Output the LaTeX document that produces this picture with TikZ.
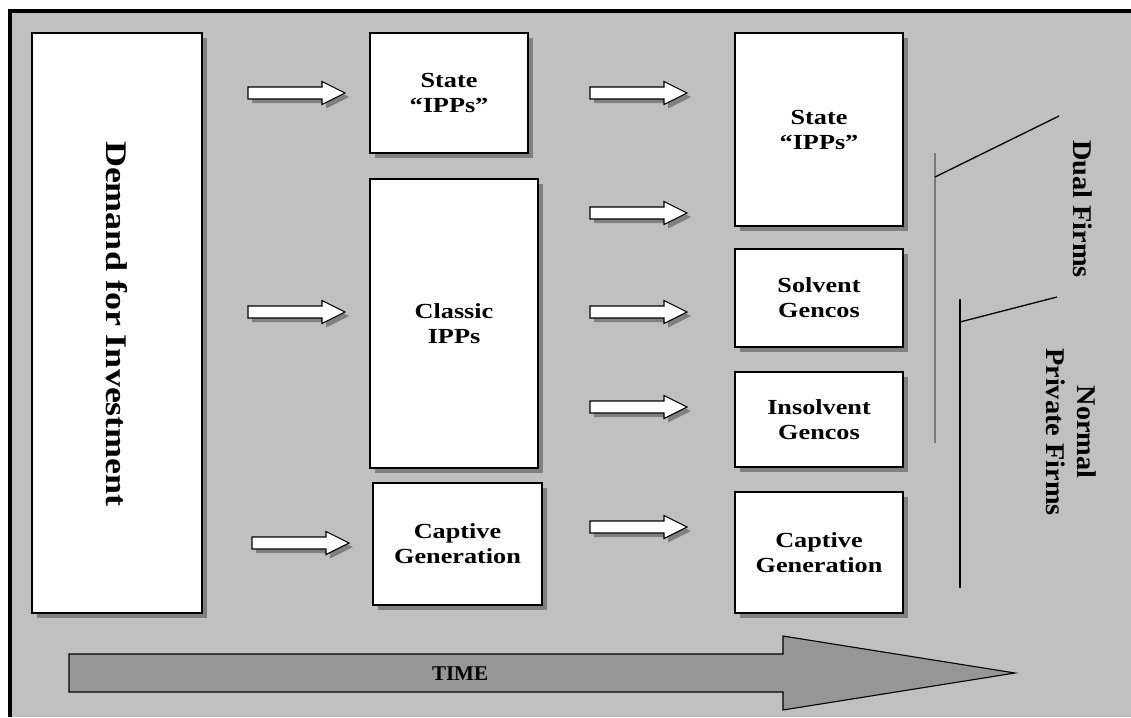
\documentclass[tikz,border=0pt]{standalone}
\usepackage{fontspec}
\setmainfont{Liberation Serif}
\newfontfamily\lblfont[FakeStretch=1.22]{Liberation Serif}
\newfontfamily\demfont[FakeStretch=1.2]{Liberation Serif}
\newfontfamily\sidefont[FakeStretch=1.05]{Liberation Serif}
\usetikzlibrary{shadows}
\definecolor{bggray}{HTML}{C0C0C0}
\definecolor{shadowgray}{HTML}{808080}
\definecolor{timegray}{HTML}{969696}
\definecolor{linegray}{HTML}{7A7A7A}
\tikzset{
  box/.style={draw=black, line width=1.3pt, fill=white, inner sep=0pt, align=center,
    general shadow={fill=shadowgray, shadow xshift=5pt, shadow yshift=-5pt},
    font=\lblfont\bfseries\fontsize{21.5}{25}\selectfont},
  blockarr/.pic={
    \fill[shadowgray] (4,4) -- ++(74,-6) -- ++(0,-5.5) -- ++(23,11.5) -- ++(-23,11.5) -- ++(0,-5.5) -- ++(-74,0) -- cycle;
    \draw[fill=white, line width=1.1pt, line join=miter] (0,-6) -- (74,-6) -- (74,-11.5) -- (97,0) -- (74,11.5) -- (74,6) -- (0,6) -- cycle;
  },
  sidetext/.style={rotate=-90, align=center, inner sep=0pt, font=\sidefont\bfseries\fontsize{27}{31}\selectfont},
}
\begin{document}
\begin{tikzpicture}[x=1pt, y=-1pt]
\useasboundingbox (0,0) rectangle (1131,717);
\fill[white] (0,0) rectangle (1131,717);
\fill[bggray] (10,11) rectangle (1131,717);
\draw[black, line width=4.5pt] (10,717) -- (10,11) -- (1131,11);

% boxes
\node[box, minimum width=170pt, minimum height=580pt] (demand) at (117,323) {};
\node[rotate=-90, inner sep=0pt, font=\demfont\bfseries\fontsize{30}{34}\selectfont] (demandtxt) at (117,324) {Demand for Investment};

\node[box, minimum width=158pt, minimum height=120pt] (state1) at (449,93) {State\\“IPPs”};
\node[box, minimum width=168pt, minimum height=289pt] (classic) at (454,323.5) {Classic\\IPPs};
\node[box, minimum width=169pt, minimum height=122pt] (captive1) at (457.5,544) {Captive\\Generation};

\node[box, minimum width=168pt, minimum height=193pt] (state2) at (819,129.5) {State\\“IPPs”};
\node[box, minimum width=168pt, minimum height=98pt] (solvent) at (819,298) {Solvent\\Gencos};
\node[box, minimum width=168pt, minimum height=95pt] (insolvent) at (819,419.5) {Insolvent\\Gencos};
\node[box, minimum width=168pt, minimum height=121pt] (captive2) at (819,552.5) {Captive\\Generation};

% block arrows
\pic (a1) at (248,93) {blockarr};
\pic (a2) at (248,312) {blockarr};
\pic (a3) at (252,543) {blockarr};
\pic (b1) at (590,93) {blockarr};
\pic (b2) at (590,213) {blockarr};
\pic (b3) at (590,312) {blockarr};
\pic (b4) at (590,407) {blockarr};
\pic (b5) at (590,527) {blockarr};

% brackets
\coordinate (g1) at (935,153);
\coordinate (g2) at (935,443);
\coordinate (g3) at (935,177);
\coordinate (g4) at (1059,116);
\coordinate (k1) at (960,299);
\coordinate (k2) at (960,588);
\coordinate (k3) at (960,322);
\coordinate (k4) at (1057,297);
\draw[linegray, line width=2pt] (g1) -- (g2);
\draw[black, line width=1.3pt] (g3) -- (g4);
\draw[black, line width=1.6pt] (k1) -- (k2);
\draw[black, line width=1.3pt] (k3) -- (k4);

\node[sidetext] (dual) at (1083,209) {Dual Firms};
\node[sidetext] (normal) at (1071,432) {Normal\\Private Firms};

% time arrow
\draw[fill=timegray, draw=black, line width=1.1pt, line join=miter] (69,654) -- (783,654) -- (783,636) -- (1015,673) -- (783,710) -- (783,692) -- (69,692) -- cycle;
\node[inner sep=0pt, font=\bfseries\fontsize{21}{24}\selectfont] (time) at (460,674) {TIME};
\end{tikzpicture}
\end{document}
